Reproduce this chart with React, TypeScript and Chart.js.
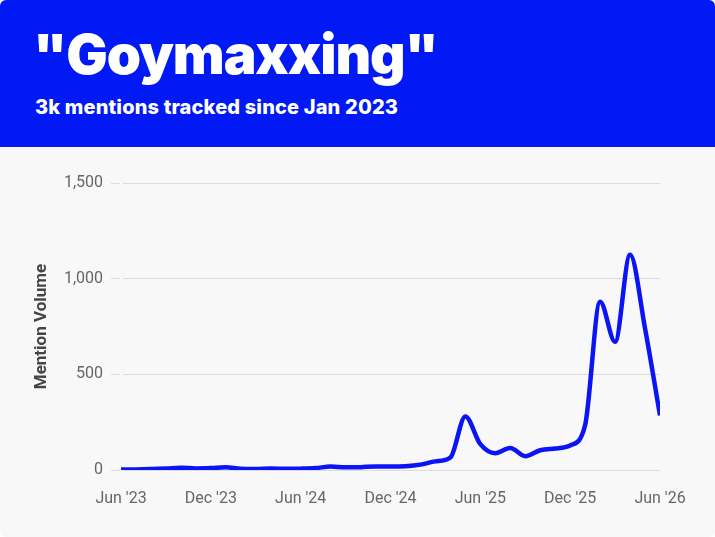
import React, { useEffect, useRef } from "react";
import { Chart, registerables } from "chart.js";

Chart.register(...registerables);

// Months since Jun 2023 (0 = Jun '23 ... 36 = Jun '26)
const monthIndex: number[] = [
  0, 1, 2, 3, 4, 5, 6, 7, 8, 9, 10, 11, 12, 13, 14, 15, 16, 17, 18, 19, 20,
  21, 22, 23, 24, 25, 26, 27, 28, 29, 30, 31, 32, 33, 34, 35, 36,
];
const mentionVolume: number[] = [
  2, 3, 5, 8, 12, 8, 10, 14, 6, 5, 8, 6, 7, 10, 18, 14, 15, 18, 18, 20, 28,
  45, 65, 280, 135, 88, 115, 72, 103, 112, 128, 235, 880, 670, 1125, 740, 285,
];
const xTickLabels: string[] = ["Jun '23", "Dec '23", "Jun '24", "Dec '24", "Jun '25", "Dec '25", "Jun '26"];
const yTicks: number[] = [0, 500, 1000, 1500];

const TITLE = '"Goymaxxing"';
const SUBTITLE = "3k mentions tracked since Jan 2023";
const BLUE = "#0019f5";
const BG = "#f8f8f8";

export default function App() {
  const canvasRef = useRef<HTMLCanvasElement | null>(null);

  useEffect(() => {
    document.body.style.margin = "0";
    const ctx = canvasRef.current;
    if (!ctx) return;
    const chart = new Chart(ctx, {
      type: "line",
      data: {
        datasets: [
          {
            data: monthIndex.map((m, i) => ({ x: m, y: mentionVolume[i] })),
            borderColor: "#0a14f5",
            borderWidth: 4.5,
            pointRadius: 0,
            cubicInterpolationMode: "monotone",
            fill: false,
          },
        ],
      },
      options: {
        animation: false,
        responsive: false,
        maintainAspectRatio: false,
        layout: { padding: { top: 36, right: 55, bottom: 0, left: 0 } },
        plugins: { legend: { display: false }, tooltip: { enabled: false } },
        scales: {
          x: {
            type: "linear",
            min: 0,
            max: 36,
            afterBuildTicks: (scale: any) => {
              scale.ticks = xTickLabels.map((_, i) => ({ value: i * 6 }));
            },
            afterFit: (scale: any) => {
              scale.height = 67;
            },
            grid: { display: false, drawTicks: false },
            border: { display: false },
            ticks: {
              padding: 19,
              maxRotation: 0,
              autoSkip: false,
              color: "#666666",
              font: { family: "Roboto", size: 16 },
              callback: (v: any) => xTickLabels[Math.round(Number(v) / 6)] ?? "",
            },
          },
          y: {
            min: 0,
            max: 1500,
            afterBuildTicks: (scale: any) => {
              scale.ticks = yTicks.map((v) => ({ value: v }));
            },
            afterFit: (scale: any) => {
              scale.width = 121;
            },
            grid: { color: "#dcdcdc", lineWidth: 1, tickLength: 10, drawTicks: true },
            border: { display: true, color: BG, width: 3 },
            title: {
              display: true,
              text: "Mention Volume",
              color: "#444444",
              font: { family: "Roboto", size: 17, weight: "bold" },
              padding: { top: 32, bottom: 0 },
            },
            ticks: {
              padding: 8,
              color: "#666666",
              font: { family: "Roboto", size: 16 },
              callback: (v: any) => Number(v).toLocaleString("en-US"),
            },
          },
        },
      },
    } as any);
    return () => chart.destroy();
  }, []);

  return (
    <div style={{ position: "fixed", left: 0, top: 0, width: 715, height: 537, background: "#ffffff" }}>
      <div style={{ width: 715, height: 537, borderRadius: 6, overflow: "hidden", background: BG, position: "relative" }}>
        <div style={{ position: "absolute", left: 0, top: 0, width: 715, height: 147, background: BLUE }}>
          <div
            style={{
              position: "absolute",
              left: 33,
              top: 22,
              color: "#ffffff",
              fontFamily: "Inter, Roboto, sans-serif",
              fontWeight: 900,
              fontSize: 55,
              lineHeight: "64px",
              letterSpacing: -1.1,
              whiteSpace: "nowrap",
            }}
          >
            {TITLE}
          </div>
          <div
            style={{
              position: "absolute",
              left: 35,
              top: 95,
              color: "#ffffff",
              fontFamily: "Inter, Roboto, sans-serif",
              fontWeight: 800,
              fontSize: 20,
              lineHeight: "24px",
              letterSpacing: 0.15,
              whiteSpace: "nowrap",
            }}
          >
            {SUBTITLE}
          </div>
        </div>
        <div style={{ position: "absolute", left: 0, top: 147, width: 715, height: 390 }}>
          <canvas ref={canvasRef} width={715} height={390} style={{ display: "block", width: 715, height: 390 }} />
        </div>
      </div>
    </div>
  );
}
